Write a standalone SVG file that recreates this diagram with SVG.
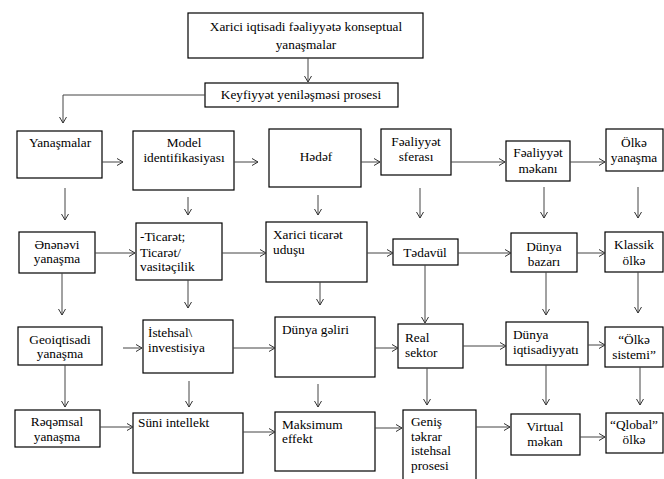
<svg xmlns="http://www.w3.org/2000/svg" width="664" height="479" viewBox="0 0 664 479">
<defs>
<marker id="ah" markerUnits="userSpaceOnUse" markerWidth="10" markerHeight="10" viewBox="0 0 10 10" refX="7" refY="5" orient="auto">
<path d="M1,1.5 L7,5 L1,8.5" fill="none" stroke="#333" stroke-width="1"/>
</marker>
</defs>
<style>
rect{fill:#fff;stroke:#000;stroke-width:1.2}
text{font-family:"Liberation Serif","Times New Roman",serif;font-size:13.3px;fill:#000}
.c{text-anchor:middle}
#connectors line,#connectors polyline{stroke:#444;stroke-width:1;fill:none;marker-end:url(#ah)}
</style>
<rect x="0" y="0" width="664" height="479" style="stroke:none;fill:#fff"/>
<g id="n-top"><rect x="188" y="13" width="235" height="45"/><text class="c" x="306" y="31">Xarici iqtisadi fəaliyyətə konseptual</text><text class="c" x="306" y="49">yanaşmalar</text></g>
<g id="n-keyf"><rect x="205" y="83" width="193" height="24"/><text class="c" x="301" y="99">Keyfiyyət yeniləşməsi prosesi</text></g>
<g id="n-yan"><rect x="17" y="131" width="85" height="47"/><text class="c" x="60" y="147">Yanaşmalar</text></g>
<g id="n-model"><rect x="133" y="131" width="101" height="59"/><text class="c" x="184" y="147">Model</text><text class="c" x="184" y="162">identifikasiyası</text></g>
<g id="n-hedef"><rect x="269" y="129" width="92" height="58"/><text class="c" x="316" y="161">Hədəf</text></g>
<g id="n-sfera"><rect x="381" y="129" width="70" height="46"/><text class="c" x="416" y="146">Fəaliyyət</text><text class="c" x="416" y="161">sferası</text></g>
<g id="n-mekan"><rect x="506" y="141" width="64" height="40"/><text class="c" x="538" y="157">Fəaliyyət</text><text class="c" x="538" y="173">məkanı</text></g>
<g id="n-olke"><rect x="606" y="129" width="57" height="42"/><text class="c" x="634" y="147">Ölkə</text><text class="c" x="634" y="162">yanaşma</text></g>
<g id="n-enenevi"><rect x="19" y="232" width="76" height="41"/><text class="c" x="57" y="249">Ənənəvi</text><text class="c" x="57" y="263">yanaşma</text></g>
<g id="n-ticaret"><rect x="136" y="223" width="86" height="57"/><text x="140" y="241">-Ticarət;</text><text x="140" y="257">Ticarət/</text><text x="140" y="271">vasitəçilik</text></g>
<g id="n-xarici"><rect x="266" y="222" width="101" height="60"/><text x="273" y="239">Xarici ticarət</text><text x="273" y="254">uduşu</text></g>
<g id="n-tedavul"><rect x="393" y="239" width="65" height="26"/><text class="c" x="425" y="257">Tədavül</text></g>
<g id="n-bazar"><rect x="511" y="233" width="66" height="39"/><text class="c" x="544" y="251">Dünya</text><text class="c" x="544" y="266">bazarı</text></g>
<g id="n-klassik"><rect x="605" y="232" width="58" height="40"/><text class="c" x="634" y="249">Klassik</text><text class="c" x="634" y="265">ölkə</text></g>
<g id="n-geo"><rect x="18" y="327" width="84" height="38"/><text class="c" x="60" y="344">Geoiqtisadi</text><text class="c" x="60" y="358">yanaşma</text></g>
<g id="n-istehsal"><rect x="143" y="320" width="90" height="53"/><text x="148" y="337">İstehsal\</text><text x="148" y="352">investisiya</text></g>
<g id="n-gelir"><rect x="275" y="317" width="100" height="60"/><text x="282" y="334">Dünya gəliri</text></g>
<g id="n-real"><rect x="398" y="324" width="65" height="44"/><text x="405" y="342">Real</text><text x="405" y="357">sektor</text></g>
<g id="n-iqtisad"><rect x="506" y="322" width="82" height="43"/><text x="513" y="339">Dünya</text><text x="513" y="354">iqtisadiyyatı</text></g>
<g id="n-sistem"><rect x="605" y="327" width="58" height="40"/><text class="c" x="634" y="344">“Ölkə</text><text class="c" x="634" y="359">sistemi”</text></g>
<g id="n-reqem"><rect x="15" y="410" width="85" height="37"/><text class="c" x="57" y="426">Rəqəmsal</text><text class="c" x="57" y="441">yanaşma</text></g>
<g id="n-suni"><rect x="133" y="413" width="110" height="60"/><text x="138" y="427">Süni intellekt</text></g>
<g id="n-maks"><rect x="275" y="412" width="100" height="59"/><text x="282" y="429">Maksimum</text><text x="282" y="443">effekt</text></g>
<g id="n-genis"><rect x="403" y="410" width="73" height="75"/><text x="411" y="426">Geniş</text><text x="411" y="441">təkrar</text><text x="411" y="455">istehsal</text><text x="411" y="470">prosesi</text></g>
<g id="n-virtual"><rect x="511" y="414" width="69" height="41"/><text class="c" x="545" y="431">Virtual</text><text class="c" x="545" y="446">məkan</text></g>
<g id="n-qlobal"><rect x="606" y="413" width="57" height="40"/><text class="c" x="634" y="429">“Qlobal”</text><text class="c" x="634" y="444">ölkə</text></g>
<g id="connectors">
<line x1="308" y1="58" x2="308" y2="82"/>
<polyline points="205,95 63,95 63,123"/>
<line x1="102" y1="162" x2="123" y2="162"/>
<line x1="234" y1="162" x2="258" y2="162"/>
<line x1="361" y1="162" x2="380" y2="162"/>
<line x1="451" y1="162" x2="505" y2="162"/>
<line x1="570" y1="162" x2="605" y2="162"/>
<line x1="65" y1="188" x2="65" y2="220"/>
<line x1="188" y1="197" x2="188" y2="215"/>
<line x1="318" y1="195" x2="318" y2="215"/>
<line x1="420" y1="188" x2="420" y2="218"/>
<line x1="544" y1="187" x2="544" y2="218"/>
<line x1="638" y1="187" x2="638" y2="218"/>
<line x1="95" y1="253" x2="135" y2="253"/>
<line x1="222" y1="253" x2="266" y2="253"/>
<line x1="367" y1="253" x2="393" y2="253"/>
<line x1="458" y1="253" x2="511" y2="253"/>
<line x1="577" y1="253" x2="605" y2="253"/>
<line x1="62" y1="273" x2="62" y2="315"/>
<line x1="188" y1="280" x2="188" y2="308"/>
<line x1="320" y1="282" x2="320" y2="305"/>
<line x1="425" y1="265" x2="425" y2="323"/>
<line x1="546" y1="272" x2="546" y2="315"/>
<line x1="638" y1="272" x2="638" y2="313"/>
<line x1="123" y1="348" x2="142" y2="348"/>
<line x1="233" y1="348" x2="275" y2="348"/>
<line x1="375" y1="348" x2="398" y2="348"/>
<line x1="463" y1="346" x2="506" y2="346"/>
<line x1="588" y1="345" x2="605" y2="345"/>
<line x1="65" y1="365" x2="65" y2="407"/>
<line x1="189" y1="381" x2="189" y2="407"/>
<line x1="318" y1="384" x2="318" y2="407"/>
<line x1="427" y1="368" x2="427" y2="405"/>
<line x1="546" y1="365" x2="546" y2="405"/>
<line x1="640" y1="367" x2="640" y2="405"/>
<line x1="100" y1="427" x2="133" y2="427"/>
<line x1="243" y1="432" x2="275" y2="432"/>
<line x1="375" y1="428" x2="402" y2="428"/>
<line x1="476" y1="427" x2="510" y2="427"/>
<line x1="580" y1="437" x2="605" y2="437"/>
</g>
</svg>
